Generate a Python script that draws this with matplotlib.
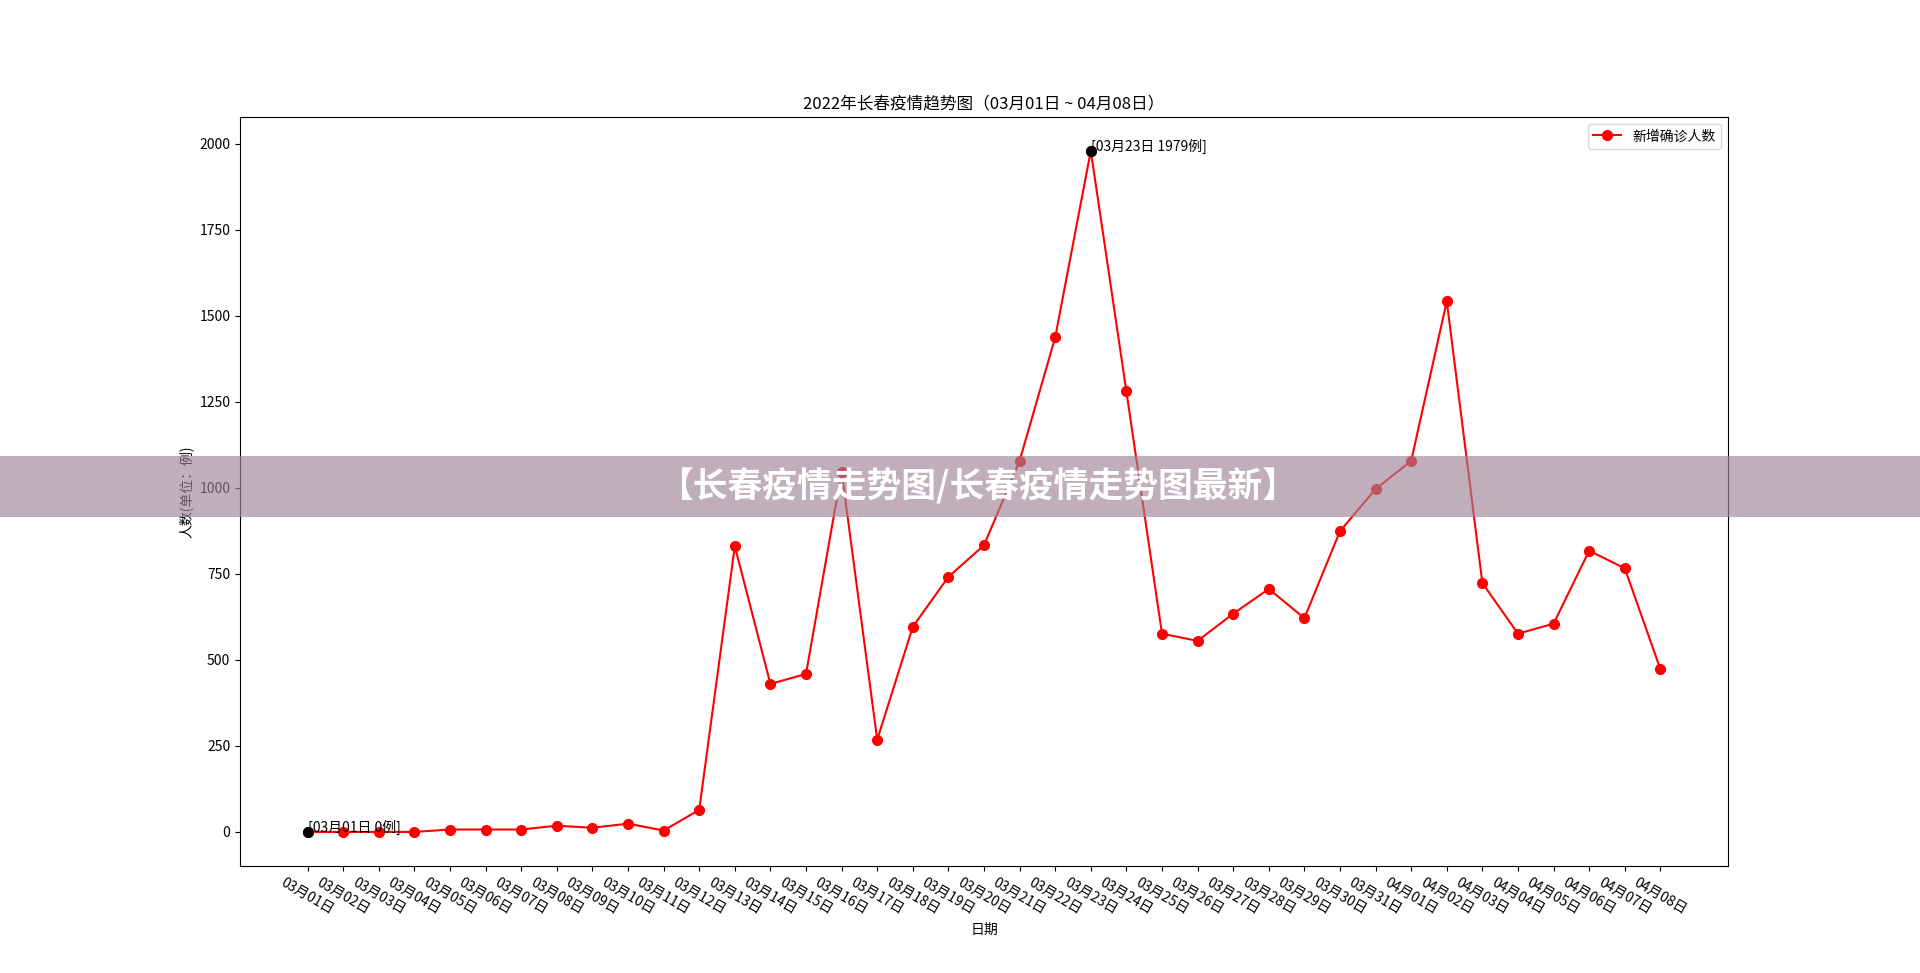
import matplotlib
matplotlib.use("Agg")
import matplotlib.pyplot as plt
from matplotlib.patches import Rectangle

plt.rcParams['font.family'] = ['Noto Sans CJK SC', 'DejaVu Sans']
plt.rcParams['axes.unicode_minus'] = False

dates = ["03月01日", "03月02日", "03月03日", "03月04日", "03月05日", "03月06日", "03月07日",
         "03月08日", "03月09日", "03月10日", "03月11日", "03月12日", "03月13日", "03月14日",
         "03月15日", "03月16日", "03月17日", "03月18日", "03月19日", "03月20日", "03月21日",
         "03月22日", "03月23日", "03月24日", "03月25日", "03月26日", "03月27日", "03月28日",
         "03月29日", "03月30日", "03月31日", "04月01日", "04月02日", "04月03日", "04月04日",
         "04月05日", "04月06日", "04月07日", "04月08日"]
new_cases = [0, 0, 0, 0, 7, 7, 7, 18, 12, 24, 4, 64, 830, 430, 459, 1047, 268, 596, 741, 833,
             1078, 1437, 1979, 1280, 576, 555, 634, 706, 621, 874, 996, 1078, 1542, 723, 576,
             605, 817, 766, 473]

title = "2022年长春疫情趋势图（03月01日 ~ 04月08日）"
banner = "【长春疫情走势图/长春疫情走势图最新】"

fig = plt.figure(figsize=(19.2, 9.73), dpi=100)
ax = fig.add_subplot(111)

x = list(range(len(dates)))
ax.plot(x, new_cases, color='red', marker='o', markersize=7, linewidth=1.5, label='新增确诊人数')

imax = max(range(len(new_cases)), key=lambda i: new_cases[i])
imin = min(range(len(new_cases)), key=lambda i: new_cases[i])
for i in (imin, imax):
    ax.plot(x[i], new_cases[i], 'o', color='black', markersize=7)
    ax.text(x[i], new_cases[i], "[%s %d例]" % (dates[i], new_cases[i]), fontsize=10)

ax.set_xticks(x)
ax.set_xticklabels(dates, rotation=-30, fontsize=10)
ax.set_xlabel('日期', fontsize=10)
ax.set_ylabel('人数(单位：例)', fontsize=10)
ax.set_title(title, fontsize=12)
ax.legend(loc='upper right', fontsize=10)

# overlay banner
fig.patches.append(Rectangle((0, 1 - 516.7 / 973), 1, (516.7 - 455.5) / 973,
                             transform=fig.transFigure, facecolor=(158/255, 131/255, 151/255),
                             alpha=0.65, edgecolor='none', zorder=5))
fig.text(0.509, 1 - 486.0 / 973, banner, color='white', fontsize=25, fontweight='heavy',
         ha='center', va='center', zorder=6)

fig.savefig('out.png', dpi=100)
